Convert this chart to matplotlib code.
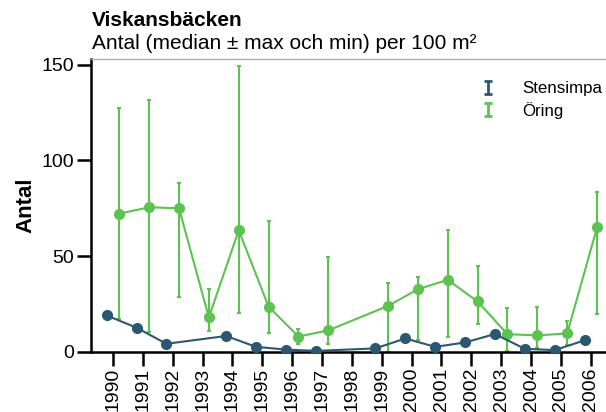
import matplotlib.pyplot as plt
from matplotlib.legend_handler import HandlerErrorbar
from matplotlib.container import ErrorbarContainer
import numpy as np

plt.rcParams['font.family'] = ['Liberation Sans', 'DejaVu Sans']

years = [str(y) for y in range(1990, 2007)]

# Stensimpa (no values in 1993 and 1998)
sten_years = ["1990", "1991", "1992", "1994", "1995", "1996", "1997",
              "1999", "2000", "2001", "2002", "2003", "2004", "2005", "2006"]
sten_median = [19.0, 12.6, 4.2, 8.3, 2.6, 1.2, 0.5,
               1.8, 7.0, 2.6, 4.9, 9.3, 1.6, 0.9, 6.0]

# Öring (no values in 1998)
oring_years = ["1990", "1991", "1992", "1993", "1994", "1995", "1996", "1997",
               "1999", "2000", "2001", "2002", "2003", "2004", "2005", "2006"]
oring_median = [72.2, 75.5, 75.0, 18.0, 63.5, 23.6, 8.0, 11.2,
                24.0, 32.7, 37.6, 26.3, 9.2, 8.6, 9.6, 65.0]
oring_max = [127.6, 131.6, 88.1, 32.7, 149.5, 68.2, 12.0, 49.3,
             36.2, 39.3, 63.5, 45.1, 23.1, 23.3, 16.1, 83.4]
oring_min = [17.0, 10.2, 28.7, 11.0, 20.5, 10.1, 3.9, 3.9,
             0.0, 6.1, 7.9, 14.7, 0.7, 2.0, 3.5, 19.8]

sten_color = "#2b5870"
oring_color = "#5cc351"

fig = plt.figure(figsize=(6.06, 4.12), dpi=100)
ax = fig.add_axes([0.150, 0.146, 0.852, 0.711])

dodge = 0.21
xs = np.array([years.index(y) for y in sten_years]) - dodge
xo = np.array([years.index(y) for y in oring_years]) + dodge

om = np.array(oring_median)
yerr = [om - np.array(oring_min), np.array(oring_max) - om]

ax.errorbar(xo, om, yerr=yerr, fmt='none', ecolor=oring_color, elinewidth=1.5,
            capsize=1.6, capthick=1.5, zorder=2)
ax.plot(xo, om, color=oring_color, lw=1.5, marker='o', markersize=7, zorder=3)
ax.plot(xs, sten_median, color=sten_color, lw=1.5, marker='o', markersize=7, zorder=4)

# legend glyphs: error bars drawn outside the visible range
h1 = ax.errorbar([-10], [50], yerr=[5], fmt='none', ecolor=sten_color,
                 elinewidth=2, capsize=3, capthick=2)
h2 = ax.errorbar([-10], [50], yerr=[5], fmt='none', ecolor=oring_color,
                 elinewidth=2, capsize=3, capthick=2)

ax.set_xlim(-0.74, 16.55)
ax.set_ylim(0, 153)
ax.set_xticks(range(len(years)))
ax.set_xticklabels(years, rotation=90, fontsize=14)
ax.set_yticks([0, 50, 100, 150])
ax.tick_params(axis='y', labelsize=14, length=10, width=1.8, pad=2)
ax.tick_params(axis='x', length=10, width=1.8, pad=1.5)

for s in ['left', 'bottom']:
    ax.spines[s].set_linewidth(1.8)
ax.spines['right'].set_visible(False)
ax.spines['top'].set_color('#aaaaaa')
ax.spines['top'].set_linewidth(1)

ax.set_ylabel("Antal", fontsize=16, fontweight='bold', labelpad=4)

ax.legend([h1, h2], ["Stensimpa", "Öring"], loc='upper right', frameon=False,
          fontsize=12.2, handlelength=1.0, handletextpad=1.5, labelspacing=0.3,
          bbox_to_anchor=(1.02, 0.975),
          handler_map={ErrorbarContainer: HandlerErrorbar(yerr_size=0.4)})

fig.text(0.151, 0.937, "Viskansbäcken", fontsize=15, fontweight='bold', va='baseline')
fig.text(0.151, 0.880, "Antal (median ± max och min) per 100 m²", fontsize=15,
         va='baseline')

fig.savefig("out.png", dpi=100)
